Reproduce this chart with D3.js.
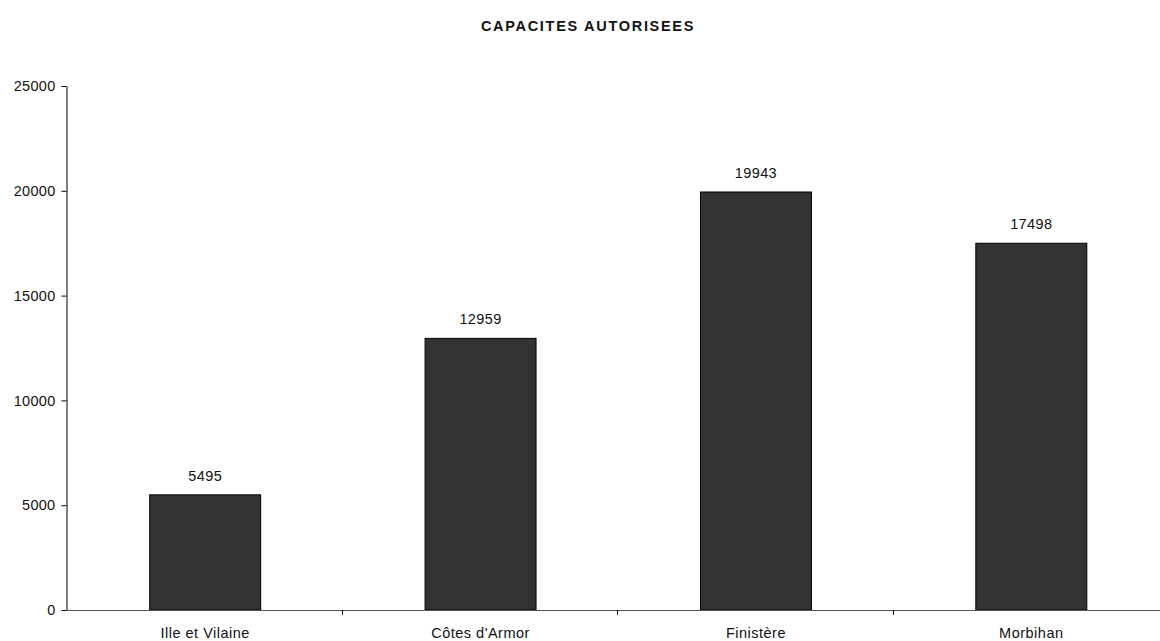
<!DOCTYPE html>
<html>
<head>
<meta charset="utf-8">
<script src="https://cdn.jsdelivr.net/npm/d3@7"></script>
<style>
  body { margin: 0; background: #fff; }
  svg { display: block; font-family: "Liberation Sans", Arial, sans-serif; }
</style>
</head>
<body>
<svg id="chart" width="1160" height="641"></svg>
<script>
// Authorised capacities per département
const departements = ["Ille et Vilaine", "Côtes d'Armor", "Finistère", "Morbihan"];
const capacites = [5495, 12959, 19943, 17498];
const yTicks = [0, 5000, 10000, 15000, 20000, 25000];
const titre = "CAPACITES AUTORISEES";

const svg = d3.select("#chart");
const plotLeft = 66.5, plotRight = 1168, plotTop = 86, plotBottom = 610;
const fontSize = 14.5;

const x = d3.scaleBand().domain(departements).range([plotLeft, plotRight]).paddingInner(0).paddingOuter(0);
const y = d3.scaleLinear().domain([0, 25000]).range([plotBottom, plotTop]);

// Title
svg.append("text")
  .attr("x", 588).attr("y", 31)
  .attr("text-anchor", "middle")
  .attr("font-size", 14.5).attr("font-weight", "bold")
  .attr("letter-spacing", "1.7")
  .attr("fill", "#111")
  .text(titre);

// Bars
const barW = x.bandwidth() * 0.403;
svg.append("g").selectAll("rect")
  .data(departements)
  .join("rect")
  .attr("x", (d) => x(d) + x.bandwidth() / 2 - barW / 2 + 1)
  .attr("y", (d, i) => y(capacites[i]))
  .attr("width", barW)
  .attr("height", (d, i) => plotBottom - y(capacites[i]))
  .attr("fill", "#333333")
  .attr("stroke", "#000")
  .attr("stroke-width", 1);

// Value labels
svg.append("g").selectAll("text")
  .data(departements)
  .join("text")
  .attr("x", (d) => x(d) + x.bandwidth() / 2 + 1)
  .attr("y", (d, i) => y(capacites[i]) - 14)
  .attr("text-anchor", "middle")
  .attr("font-size", fontSize)
  .attr("letter-spacing", "0.4")
  .attr("fill", "#111")
  .text((d, i) => capacites[i]);

// Y axis
const yAxis = d3.axisLeft(y).tickValues(yTicks).tickFormat(d3.format("d"))
  .tickSize(5).tickPadding(6).tickSizeOuter(0);
const gy = svg.append("g").attr("transform", `translate(${plotLeft},0)`).call(yAxis);
gy.selectAll("text")
  .attr("font-size", fontSize).attr("fill", "#111")
  .attr("letter-spacing", "0.3")
  .attr("font-family", "Liberation Sans, Arial, sans-serif");
gy.selectAll("line, path").attr("stroke", "#000");

// X axis with boundary ticks between categories
svg.append("line")
  .attr("x1", plotLeft).attr("x2", plotRight)
  .attr("y1", plotBottom + 0.5).attr("y2", plotBottom + 0.5)
  .attr("stroke", "#555");
svg.append("g").selectAll("line")
  .data(departements.slice(1))
  .join("line")
  .attr("x1", (d) => Math.round(x(d)) + 0.5)
  .attr("x2", (d) => Math.round(x(d)) + 0.5)
  .attr("y1", plotBottom).attr("y2", plotBottom + 5)
  .attr("stroke", "#000");
svg.append("g").selectAll("text")
  .data(departements)
  .join("text")
  .attr("x", (d) => x(d) + x.bandwidth() / 2 + 1)
  .attr("y", 638)
  .attr("text-anchor", "middle")
  .attr("font-size", fontSize)
  .attr("letter-spacing", "0.5")
  .attr("fill", "#111")
  .text((d) => d);
</script>
</body>
</html>
